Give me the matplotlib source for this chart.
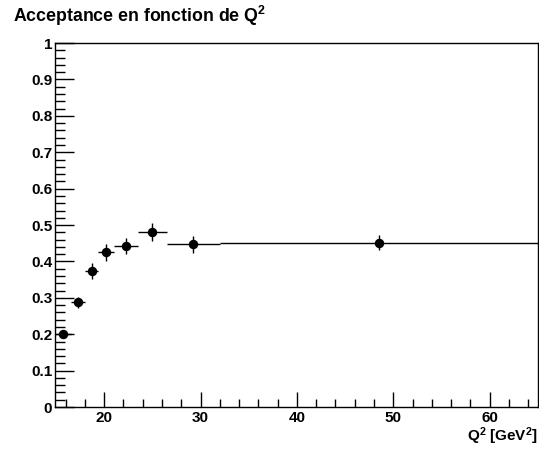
import matplotlib
matplotlib.use("Agg")
import matplotlib.pyplot as plt
from matplotlib.ticker import MultipleLocator, FuncFormatter
import numpy as np

plt.rcParams['font.family'] = ['Liberation Sans', 'DejaVu Sans']
plt.rcParams['font.weight'] = 'bold'
plt.rcParams['mathtext.fontset'] = 'custom'
plt.rcParams['mathtext.rm'] = 'Liberation Sans:bold'
plt.rcParams['mathtext.it'] = 'Liberation Sans:bold'
plt.rcParams['mathtext.bf'] = 'Liberation Sans:bold'

# bornes des bins en Q2 et acceptance mesuree
bin_edges = [14.9, 16.6, 18.0, 19.4, 21.0, 23.5, 26.5, 32.0, 65.0]
acceptance = [0.202, 0.288, 0.374, 0.425, 0.443, 0.481, 0.447, 0.452]
acc_err = [0.010, 0.015, 0.021, 0.023, 0.022, 0.025, 0.023, 0.020]

edges = np.array(bin_edges)
centres = 0.5 * (edges[1:] + edges[:-1])
demi_largeur = 0.5 * (edges[1:] - edges[:-1])

fig = plt.figure(figsize=(5.39, 4.49), dpi=100)
ax = fig.add_axes([0.102, 0.0935, 0.896, 0.8105])

ax.errorbar(centres, acceptance, xerr=demi_largeur, yerr=acc_err,
            fmt='o', color='black', ms=5.8, elinewidth=1.0, capsize=0)

ax.set_xlim(edges[0], edges[-1])
ax.set_ylim(0, 1)

ax.xaxis.set_major_locator(MultipleLocator(10))
ax.xaxis.set_minor_locator(MultipleLocator(2))
ax.yaxis.set_major_locator(MultipleLocator(0.1))
ax.yaxis.set_minor_locator(MultipleLocator(0.02))
ax.yaxis.set_major_formatter(FuncFormatter(lambda v, p: '%g' % round(v, 2)))

ax.tick_params(which='both', direction='in', top=False, right=False,
               labelsize=11, width=1)
ax.tick_params(axis='y', which='major', length=14, pad=2)
ax.tick_params(axis='y', which='minor', length=7)
ax.tick_params(axis='x', which='major', length=11, pad=3)
ax.tick_params(axis='x', which='minor', length=6)
for lbl in ax.get_xticklabels() + ax.get_yticklabels():
    lbl.set_fontweight('bold')

for sp in ax.spines.values():
    sp.set_linewidth(1.0)

ax.set_xlabel('Q$^{2}$ [GeV$^{2}$]', fontsize=11, fontweight='bold',
              loc='right', labelpad=0)

fig.text(0.024, 0.965, 'Acceptance en fonction de Q$^{2}$', fontsize=12.8,
         fontweight='bold', ha='left', va='center')

fig.savefig('out.png', dpi=100)
